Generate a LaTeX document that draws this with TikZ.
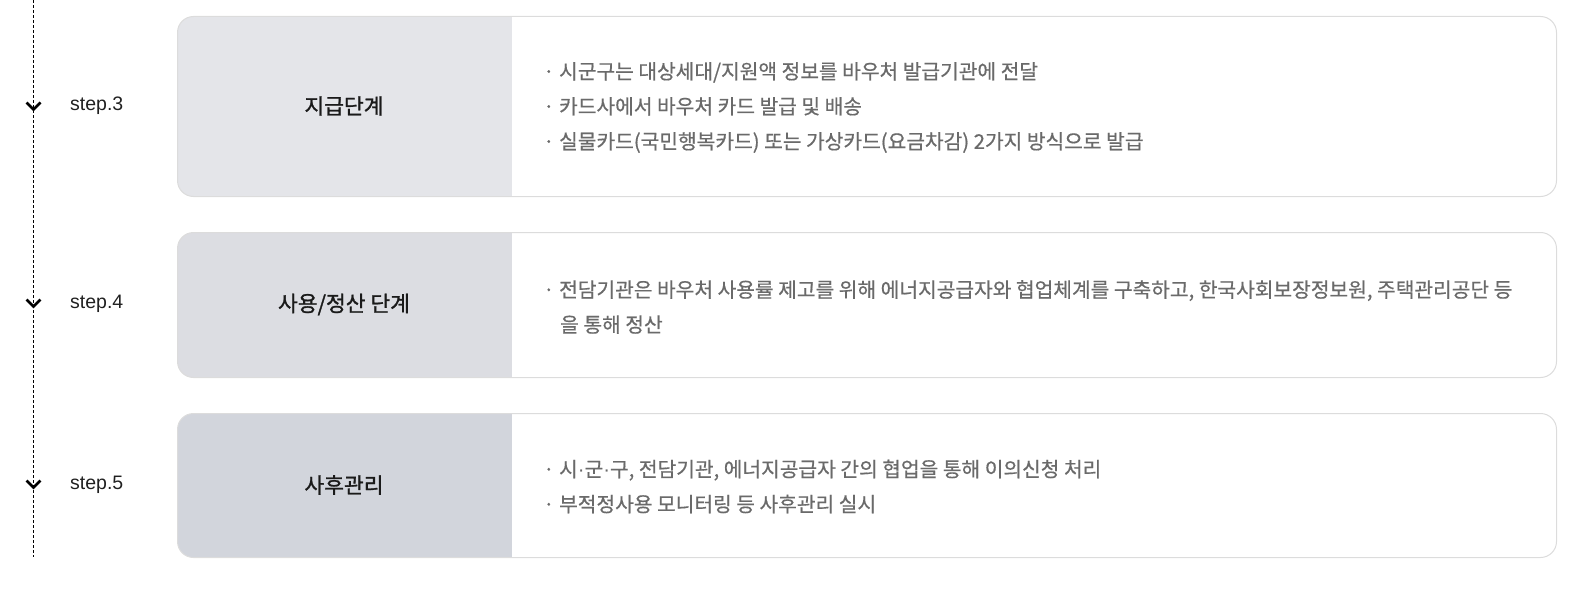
\documentclass[tikz,border=0pt]{standalone}
\usepackage{fontspec}
\setmainfont{Noto Sans CJK KR}
\newfontfamily\titlefont[FakeBold=1.2]{Noto Sans CJK KR}
\newfontfamily\bodyfont[FakeBold=0.5]{Noto Sans CJK KR}
\newfontfamily\stepfont{Liberation Sans}
\newcommand{\narrowdot}{{\stepfont ·}}
\definecolor{greyA}{HTML}{E4E5E9}
\definecolor{greyB}{HTML}{DCDDE2}
\definecolor{greyC}{HTML}{D2D5DC}
\definecolor{bordercol}{HTML}{DCDCDC}
\definecolor{bodycol}{HTML}{6A6A6A}
\definecolor{titlecol}{HTML}{1A1A1A}
\definecolor{stepcol}{HTML}{202020}
\tikzset{
  stagebox/.style 2 args={draw=bordercol, line width=1pt, fill=white, rounded corners=16pt,
    minimum width=1379pt, minimum height=#1, inner sep=0pt, anchor=north west,
    path picture={\fill[#2, sharp corners] (path picture bounding box.north west) rectangle ([xshift=334pt]path picture bounding box.south west);}},
  stagetitle/.style={font=\titlefont\fontsize{21.5}{24}\selectfont, text=titlecol, inner sep=0pt},
  stagebody/.style={font=\bodyfont\fontsize{20.3}{35}\selectfont, text=bodycol, align=left, inner sep=0pt, anchor=west},
  steplabel/.style={font=\stepfont\fontsize{19.5}{20}\selectfont, text=stepcol, inner sep=0pt, anchor=west},
  chev/.style={line width=2.6pt, draw=black, line cap=butt, line join=miter},
  timeline/.style={draw=black, line width=1pt, dash pattern=on 3pt off 2pt}
}
\begin{document}
\begin{tikzpicture}[x=1pt,y=-1pt]
\useasboundingbox (0,0) rectangle (1583,594);
% timeline
\coordinate (ltop) at (33.5,0);
\coordinate (lbot) at (33.5,557);
\draw[timeline] (ltop) -- (lbot);
% boxes
\node[stagebox={180pt}{greyA}] (b3) at (177,16) {};
\node[stagebox={145pt}{greyB}] (b4) at (177,232) {};
\node[stagebox={144pt}{greyC}] (b5) at (177,413) {};
% titles
\node[stagetitle] (t3) at (344,106) {지급단계};
\node[stagetitle] (t4) at (344,304.5) {사용/정산 단계};
\node[stagetitle] (t5) at (344,485) {사후관리};
% bodies
\node[stagebody] (d3) at (543,107.5) {· 시군구는 대상세대/지원액 정보를 바우처 발급기관에 전달\\· 카드사에서 바우처 카드 발급 및 배송\\· 실물카드(국민행복카드) 또는 가상카드(요금차감) 2가지 방식으로 발급};
\node[stagebody] (d4) at (543,307) {· 전담기관은 바우처 사용률 제고를 위해 에너지공급자와 협업체계를 구축하고, 한국사회보장정보원, 주택관리공단 등\\\hspace*{17pt}을 통해 정산};
\node[stagebody] (d5) at (543,486.5) {· 시\narrowdot 군\narrowdot 구, 전담기관, 에너지공급자 간의 협업을 통해 이의신청 처리\\· 부적정사용 모니터링 등 사후관리 실시};
% step labels
\node[steplabel] (s3) at (70,106) {step.3};
\node[steplabel] (s4) at (70,304) {step.4};
\node[steplabel] (s5) at (70,485) {step.5};
% chevrons
\coordinate (c3) at (33.5,106.5);
\coordinate (c4) at (33.5,303.5);
\coordinate (c5) at (33.5,484.5);
\foreach \c in {c3,c4,c5}{
  \draw[chev] ([shift={(-7,-4)}]\c) -- ([shift={(0,3)}]\c) -- ([shift={(7,-4)}]\c);
}
\end{tikzpicture}
\end{document}
